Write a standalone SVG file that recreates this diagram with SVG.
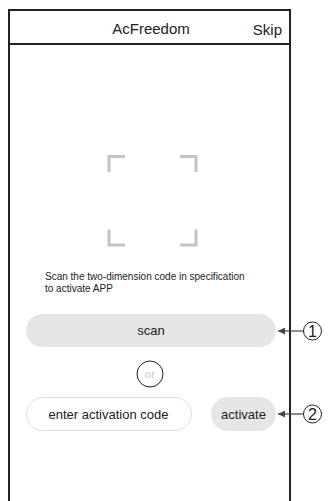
<svg xmlns="http://www.w3.org/2000/svg" width="329" height="501" viewBox="0 0 329 501">
<style>
.t{font-family:"Liberation Sans",Arial,sans-serif;fill:#222}
.br{fill:none;stroke:#c4c4c4;stroke-width:3}
.conn{stroke:#444;stroke-width:1.2;fill:none}
.num{fill:#fff;stroke:#222;stroke-width:1}
</style>
<defs>
<marker id="ah" viewBox="0 0 10 10" refX="10" refY="5" markerWidth="7" markerHeight="7" markerUnits="userSpaceOnUse" orient="auto">
<path d="M0,0 L10,5 L0,10 z" fill="#444"/>
</marker>
</defs>
<rect width="329" height="501" fill="#fff"/>
<g id="frame">
<path d="M9,510 V10 H290 V510" fill="none" stroke="#222" stroke-width="2"/>
<line x1="9" y1="44" x2="290" y2="44" stroke="#222" stroke-width="2"/>
<text class="t" x="151" y="34" font-size="15" text-anchor="middle">AcFreedom</text>
<text class="t" x="282" y="35" font-size="15" text-anchor="end">Skip</text>
</g>
<g id="scanner">
<path class="br" d="M125,156.5 H109 V172"/>
<path class="br" d="M180,156.5 H196 V172"/>
<path class="br" d="M125,245 H109 V229.5"/>
<path class="br" d="M180,245 H196 V229.5"/>
</g>
<g id="instructions">
<text class="t" x="45" y="280" font-size="10">Scan the two-dimension code in specification</text>
<text class="t" x="45" y="291.5" font-size="10">to activate APP</text>
</g>
<g id="scan">
<rect x="26" y="314" width="250" height="33" rx="16.5" fill="#e6e6e6"/>
<text class="t" x="151" y="335" font-size="13" text-anchor="middle">scan</text>
</g>
<g id="or">
<circle cx="150" cy="374" r="13" fill="#fff" stroke="#222" stroke-width="1"/>
<text class="t" x="150" y="378" font-size="11" text-anchor="middle" style="fill:#c8c8c8">or</text>
</g>
<g id="code-input">
<rect x="26.5" y="397.5" width="165" height="33" rx="16.5" fill="#fff" stroke="#e0e0e0" stroke-width="1"/>
<text class="t" x="108.5" y="418.5" font-size="13" text-anchor="middle">enter activation code</text>
</g>
<g id="activate">
<rect x="211" y="397" width="65" height="34" rx="17" fill="#e6e6e6"/>
<text class="t" x="243.5" y="418.5" font-size="13" text-anchor="middle">activate</text>
</g>
<g id="callout-1">
<circle class="num" cx="312.5" cy="331" r="9"/>
<text class="t" x="312.5" y="337" font-size="16" text-anchor="middle">1</text>
</g>
<g id="callout-2">
<circle class="num" cx="312.5" cy="414" r="9"/>
<text class="t" x="312.5" y="420" font-size="16" text-anchor="middle">2</text>
</g>
<g id="connectors">
<line class="conn" x1="303.5" y1="331" x2="278" y2="331" marker-end="url(#ah)"/>
<line class="conn" x1="303.5" y1="414" x2="278" y2="414" marker-end="url(#ah)"/>
</g>
</svg>
